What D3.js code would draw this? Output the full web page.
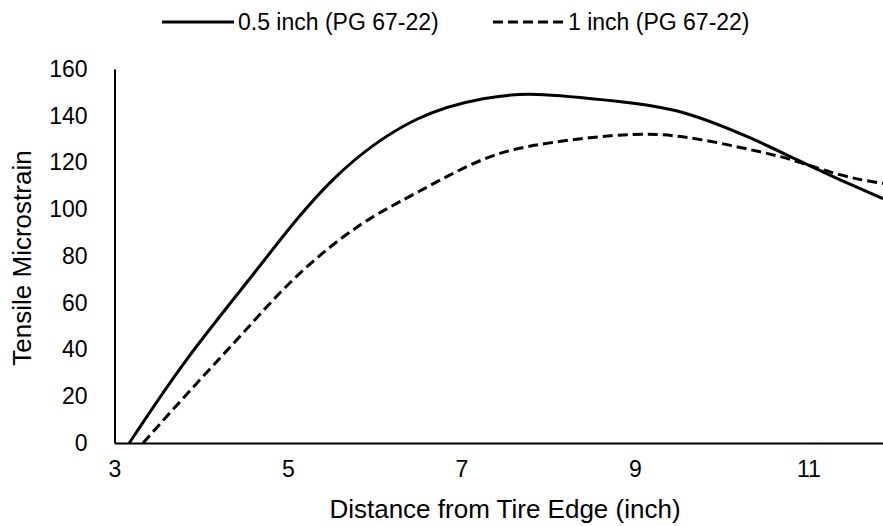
<!DOCTYPE html>
<html>
<head>
<meta charset="utf-8">
<script src="https://cdn.jsdelivr.net/npm/d3@7"></script>
<style>
	body { margin: 0; background: #fff; }
	text { font-family: Arial, "Liberation Sans", sans-serif; fill: #000; }
</style>
</head>
<body>
<svg id="graph"></svg>
<script>
// 0.5 inch (PG 67-22)
var seriesHalfX = [3.17, 3.83, 4.64, 5.52, 6.48, 7.25, 7.87, 8.79, 9.56, 10.33, 10.86, 11.36, 11.86];
var seriesHalfY = [0, 35.6, 74.1, 112.7, 138.4, 147.3, 149.1, 146.2, 141.3, 130.5, 121.3, 112.7, 104.5];
// 1 inch (PG 67-22)
var seriesOneX = [3.33, 3.91, 4.48, 5.10, 5.81, 6.48, 7.25, 8.02, 8.98, 9.71, 10.33, 10.82, 11.36, 11.86];
var seriesOneY = [0, 24, 47, 71.3, 92.7, 107, 121.3, 128.4, 132, 130.1, 125.5, 121, 114.8, 111];

var seriesNames = ["0.5 inch (PG 67-22)", "1 inch (PG 67-22)"];
var xTicks = [3, 5, 7, 9, 11];
var yTicks = [0, 20, 40, 60, 80, 100, 120, 140, 160];

var width = 883, height = 526;
var margin = {top: 69, right: 0, bottom: 83, left: 114.5};

var svg = d3.select("#graph")
	.attr("width", width)
	.attr("height", height);

// 右端は11.86あたりで切れている
var x = d3.scaleLinear().domain([3, 11.86]).range([margin.left, width]);
var y = d3.scaleLinear().domain([0, 160]).range([height - margin.bottom, margin.top]);

function toPoints(xs, ys) {
	return xs.map(function (v, i) { return {x: v, y: ys[i]}; });
}

// Excelの平滑線に近づける
var valueline = d3.line()
	.x(function (d) { return x(d.x); })
	.y(function (d) { return y(d.y); })
	.curve(d3.curveNatural);

// axes
var xAxis = d3.axisBottom(x).tickValues(xTicks).tickSize(0).tickPadding(18);
svg.append("g")
	.attr("transform", "translate(0," + y(0) + ")")
	.call(xAxis)
	.call(function (g) {
		g.select(".domain").attr("stroke", "#000").attr("stroke-width", 2);
		g.selectAll("text").style("font-size", "23px").attr("fill", "#000");
	});

var yAxis = d3.axisLeft(y).tickValues(yTicks).tickSize(0).tickPadding(27);
svg.append("g")
	.attr("transform", "translate(" + x(3) + ",0)")
	.call(yAxis)
	.call(function (g) {
		g.select(".domain").attr("stroke", "#000").attr("stroke-width", 2);
		g.selectAll("text").style("font-size", "23px").attr("fill", "#000");
	});

// lines
svg.append("path")
	.datum(toPoints(seriesHalfX, seriesHalfY))
	.attr("fill", "none")
	.attr("stroke", "#000")
	.attr("stroke-width", 3)
	.attr("d", valueline);

svg.append("path")
	.datum(toPoints(seriesOneX, seriesOneY))
	.attr("fill", "none")
	.attr("stroke", "#000")
	.attr("stroke-width", 3)
	.attr("stroke-dasharray", "10,5")
	.attr("d", valueline);

// axis titles
svg.append("text")
	.attr("x", 505)
	.attr("y", 518)
	.attr("text-anchor", "middle")
	.style("font-size", "26px")
	.text("Distance from Tire Edge (inch)");

svg.append("text")
	.attr("transform", "translate(31,258) rotate(-90)")
	.attr("text-anchor", "middle")
	.style("font-size", "26px")
	.text("Tensile Microstrain");

// legend
var legend = [
	{name: seriesNames[0], x1: 162, x2: 234, tx: 238, dash: null},
	{name: seriesNames[1], x1: 493, x2: 565, tx: 568, dash: "10,5"}
];
legend.forEach(function (l) {
	svg.append("line")
		.attr("x1", l.x1).attr("x2", l.x2)
		.attr("y1", 22).attr("y2", 22)
		.attr("stroke", "#000")
		.attr("stroke-width", 3)
		.attr("stroke-dasharray", l.dash);
	svg.append("text")
		.attr("x", l.tx)
		.attr("y", 30)
		.style("font-size", "23px")
		.text(l.name);
});
</script>
</body>
</html>
